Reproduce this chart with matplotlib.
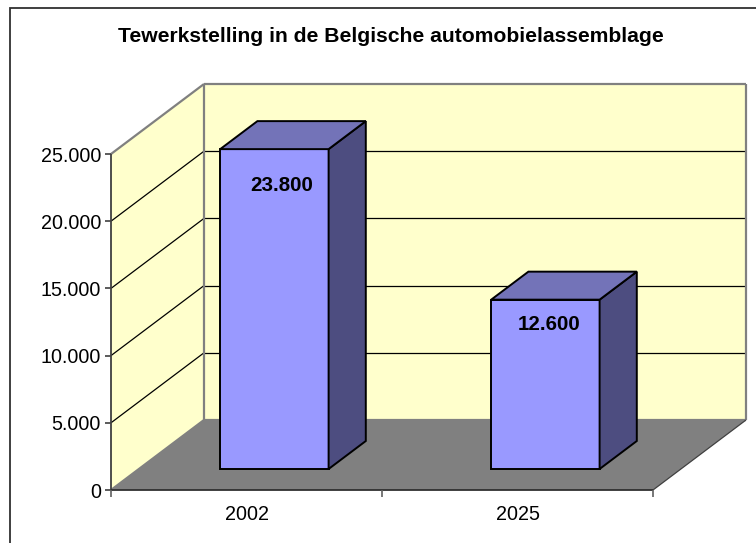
import matplotlib
matplotlib.use("Agg")
import matplotlib.pyplot as plt
from matplotlib.lines import Line2D
from matplotlib.patches import Polygon

plt.rcParams['font.family'] = ['Liberation Sans', 'DejaVu Sans']

TITLE = "Tewerkstelling in de Belgische automobielassemblage"
categories = ["2002", "2025"]
values = [23800, 12600]
value_labels = ["23.800", "12.600"]
y_ticks = [0, 5000, 10000, 15000, 20000, 25000]
y_tick_labels = ["0", "5.000", "10.000", "15.000", "20.000", "25.000"]

W, H = 756, 543
fig = plt.figure(figsize=(W / 100, H / 100), dpi=100, facecolor="white")

# Front plane of the pseudo-3D box, in pixels
L, R, Y0, Y1 = 111, 653, 490, 154
ax = fig.add_axes([L / W, 1 - Y0 / H, (R - L) / W, (Y0 - Y1) / H])
ax.set_xlim(0, len(categories))
ax.set_ylim(0, y_ticks[-1])
ax.axis("off")

# Depth vector for z = 1 in data units
DX = 93 / ((R - L) / len(categories))
DY = 70 / ((Y0 - Y1) / y_ticks[-1])


def P(x, y, z=0.0):
    return (x + DX * z, y + DY * z)


def poly(pts, fc, ec="none", lw=0.0, z=1):
    ax.add_patch(Polygon(pts, closed=True, fc=fc, ec=ec, lw=lw, zorder=z,
                         clip_on=False, joinstyle="miter"))


def line(a, b, color="black", lw=1.0, z=2):
    ax.plot([a[0], b[0]], [a[1], b[1]], color=color, lw=lw, zorder=z,
            clip_on=False, solid_capstyle="butt")


n = len(categories)
top = y_ticks[-1]
WALL = "#FFFFCC"
GRAY = "#808080"

# Walls and floor
poly([P(0, 0), P(0, top), P(0, top, 1), P(0, 0, 1)], WALL)
poly([P(0, 0, 1), P(0, top, 1), P(n, top, 1), P(n, 0, 1)], WALL)
poly([P(0, 0), P(n, 0), P(n, 0, 1), P(0, 0, 1)], GRAY)

# Gridlines
for t in y_ticks[1:-1]:
    line(P(0, t), P(0, t, 1), lw=0.9)
    line(P(0, t, 1), P(n, t, 1), lw=0.9)

# Wall outlines
for a, b in [(P(0, top), P(0, top, 1)), (P(0, top, 1), P(n, top, 1)),
             (P(0, top, 1), P(0, 0, 1)), (P(n, top, 1), P(n, 0, 1)),
             (P(0, 0, 1), P(n, 0, 1)), (P(0, 0), P(0, 0, 1))]:
    line(a, b, color=GRAY, lw=1.6, z=3)
line(P(n, 0), P(n, 0, 1), color="#404040", lw=0.9, z=3)

# Axes lines and ticks
line(P(0, 0), P(0, top), color="#404040", lw=1.3, z=4)
line(P(0, 0), P(n, 0), color="#303030", lw=1.3, z=4)

to_x = n / (R - L)
to_y = top / (Y0 - Y1)
for t, lab in zip(y_ticks, y_tick_labels):
    line((-6 * to_x, t), (0, t), color="#404040", lw=1.2, z=4)
    ax.text(-10 * to_x, t, lab, ha="right", va="center_baseline", fontsize=14.2, color="black")
for i in range(n + 1):
    line((i, 0), (i, -7 * to_y), color="#606060", lw=1.2, z=4)
for i, c in enumerate(categories):
    ax.text(i + 0.5, -23 * to_y, c, ha="center", va="center_baseline", fontsize=14.2, color="black")

# Bars
FRONT, SIDE, TOP = "#9999FF", "#4D4D80", "#7373B8"
Z0, Z1 = 0.3, 0.7
X0, X1 = 0.3, 0.7
label_dx = [7.5, 4]
label_dy = [34, 23]
for i, v in enumerate(values):
    a, b = i + X0, i + X1
    poly([P(a, 0, Z0), P(b, 0, Z0), P(b, v, Z0), P(a, v, Z0)], FRONT, "black", 1.4, 5)
    poly([P(b, 0, Z0), P(b, 0, Z1), P(b, v, Z1), P(b, v, Z0)], SIDE, "black", 1.4, 5)
    poly([P(a, v, Z0), P(b, v, Z0), P(b, v, Z1), P(a, v, Z1)], TOP, "black", 1.4, 5)
    tx, ty = P(i + 0.5, v, Z0)
    ax.text(tx + label_dx[i] * to_x, ty - label_dy[i] * to_y, value_labels[i],
            ha="center", va="center_baseline",
            fontsize=14.8, fontweight="bold", color="black", zorder=6)

# Title
fig.text(391 / W, 1 - 36 / H, TITLE, ha="center", va="center", fontsize=15.2,
         fontweight="bold", color="black")

# Chart frame: only the left and top edges are visible in the crop
fig.add_artist(Line2D([10 / W, 10 / W, 1], [0, 1 - 8 / H, 1 - 8 / H], transform=fig.transFigure,
                      color="#303030", lw=1.3, solid_joinstyle="miter"))

fig.savefig("out.png", dpi=100)
